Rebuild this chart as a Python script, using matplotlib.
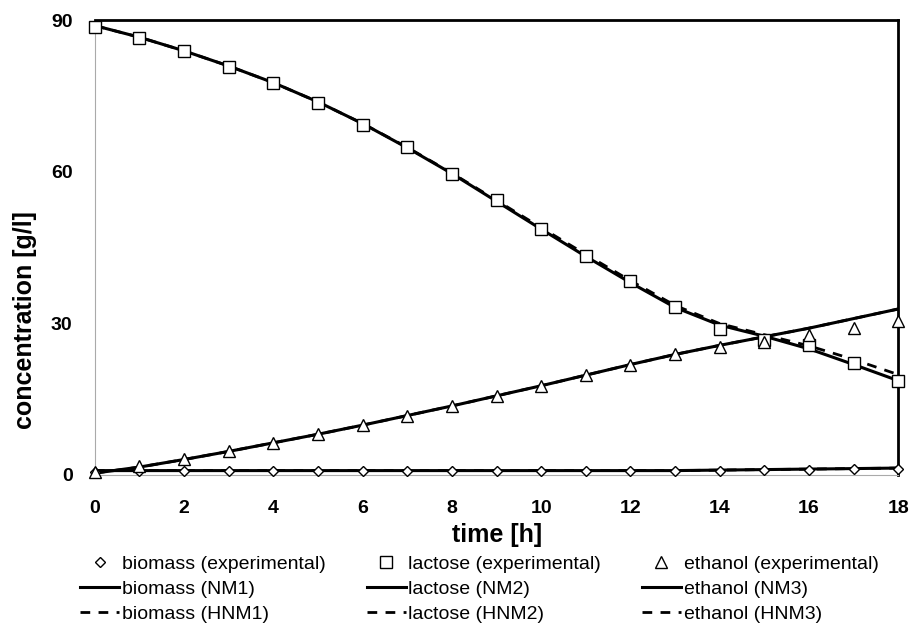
import matplotlib
matplotlib.use("Agg")
import matplotlib.pyplot as plt

time_h = list(range(19))

biomass_exp = [0.6, 0.7, 0.7, 0.7, 0.7, 0.7, 0.7, 0.7, 0.7, 0.7, 0.7, 0.7, 0.7, 0.7, 0.8, 0.9, 1.0, 1.1, 1.2]
lactose_exp = [88.7, 86.4, 83.8, 80.8, 77.5, 73.5, 69.2, 64.8, 59.5, 54.3, 48.6, 43.3, 38.3, 33.2, 28.9, 26.6, 25.7, 22.1, 18.6]
ethanol_exp = [0.5, 1.8, 3.0, 4.6, 6.3, 8.0, 9.8, 11.7, 13.5, 15.5, 17.5, 19.8, 21.8, 23.8, 25.3, 26.3, 27.6, 29.0, 30.4]

biomass_nm = [0.8, 0.8, 0.8, 0.8, 0.8, 0.8, 0.8, 0.8, 0.8, 0.8, 0.8, 0.8, 0.8, 0.8, 0.9, 1.0, 1.1, 1.2, 1.3]
lactose_nm = [88.9, 86.6, 83.9, 80.9, 77.6, 73.8, 69.5, 64.7, 59.6, 54.1, 48.6, 43.2, 38.0, 33.1, 29.6, 27.4, 24.9, 21.8, 18.6]
ethanol_nm = [0.3, 1.5, 3.0, 4.6, 6.3, 8.0, 9.8, 11.7, 13.6, 15.6, 17.6, 19.7, 21.8, 23.8, 25.6, 27.3, 29.0, 30.9, 32.8]

biomass_hnm = [0.8, 0.8, 0.8, 0.8, 0.8, 0.8, 0.8, 0.8, 0.8, 0.8, 0.8, 0.8, 0.8, 0.8, 0.9, 1.0, 1.1, 1.2, 1.3]
lactose_hnm = [88.9, 86.6, 83.9, 80.9, 77.6, 73.8, 69.5, 64.8, 59.7, 54.3, 48.9, 43.6, 38.4, 33.5, 29.9, 27.7, 25.5, 22.8, 19.8]
ethanol_hnm = [0.3, 1.5, 3.0, 4.6, 6.3, 8.0, 9.8, 11.7, 13.6, 15.6, 17.6, 19.7, 21.8, 23.8, 25.6, 27.3, 29.0, 30.9, 32.8]

x_ticks = [0, 2, 4, 6, 8, 10, 12, 14, 16, 18]
y_ticks = [0, 30, 60, 90]

plt.rcParams["font.family"] = ["Liberation Sans", "DejaVu Sans"]

fig = plt.figure(figsize=(9.12, 6.27), dpi=100)
ax = fig.add_axes([0.104, 0.243, 0.881, 0.725])

mk = dict(linestyle="none", markerfacecolor="white", markeredgecolor="black",
          markeredgewidth=1.0, clip_on=False, zorder=3)
dash = (0, (3.5, 3))
ax.plot(time_h, biomass_exp, marker="D", markersize=5, label="biomass (experimental)", **mk)
ax.plot(time_h, biomass_nm, color="black", lw=2.2, label="biomass (NM1)", zorder=2)
ax.plot(time_h, biomass_hnm, color="black", lw=2.0, ls=dash, label="biomass (HNM1)", zorder=2)
ax.plot(time_h, lactose_exp, marker="s", markersize=8, label="lactose (experimental)", **mk)
ax.plot(time_h, lactose_nm, color="black", lw=2.2, label="lactose (NM2)", zorder=2)
ax.plot(time_h, lactose_hnm, color="black", lw=2.0, ls=dash, label="lactose (HNM2)", zorder=2)
ax.plot(time_h, ethanol_exp, marker="^", markersize=9, label="ethanol (experimental)", **mk)
ax.plot(time_h, ethanol_nm, color="black", lw=2.2, label="ethanol (NM3)", zorder=2)
ax.plot(time_h, ethanol_hnm, color="black", lw=2.0, ls=dash, label="ethanol (HNM3)", zorder=2)

ax.set_xlim(0, 18)
ax.set_ylim(0, 90)
ax.set_xticks(x_ticks)
ax.set_yticks(y_ticks)
ax.tick_params(axis="x", length=0, pad=18)
ax.tick_params(axis="y", length=0, pad=16)
for lab in ax.get_xticklabels() + ax.get_yticklabels():
    lab.set_fontweight("bold")
    lab.set_fontsize(14)

ax.spines["top"].set_color("black")
ax.spines["top"].set_linewidth(2)
ax.spines["right"].set_color("black")
ax.spines["right"].set_linewidth(2)
ax.spines["left"].set_color("#aaaaaa")
ax.spines["bottom"].set_color("#aaaaaa")

ax.set_xlabel("time [h]", fontweight="bold", fontsize=18)
ax.xaxis.set_label_coords(0.5, -0.106)
ax.set_ylabel("concentration [g/l]", fontweight="bold", fontsize=18)
ax.yaxis.set_label_coords(-0.072, 0.34)

leg = fig.legend(loc="upper left", bbox_to_anchor=(0.088, 0.115), ncol=3, frameon=False,
                 prop={"size": 14}, handlelength=2.0, handletextpad=0.15,
                 columnspacing=2.1, labelspacing=0.38, borderaxespad=0, borderpad=0)

fig.savefig("out.png", dpi=100)
